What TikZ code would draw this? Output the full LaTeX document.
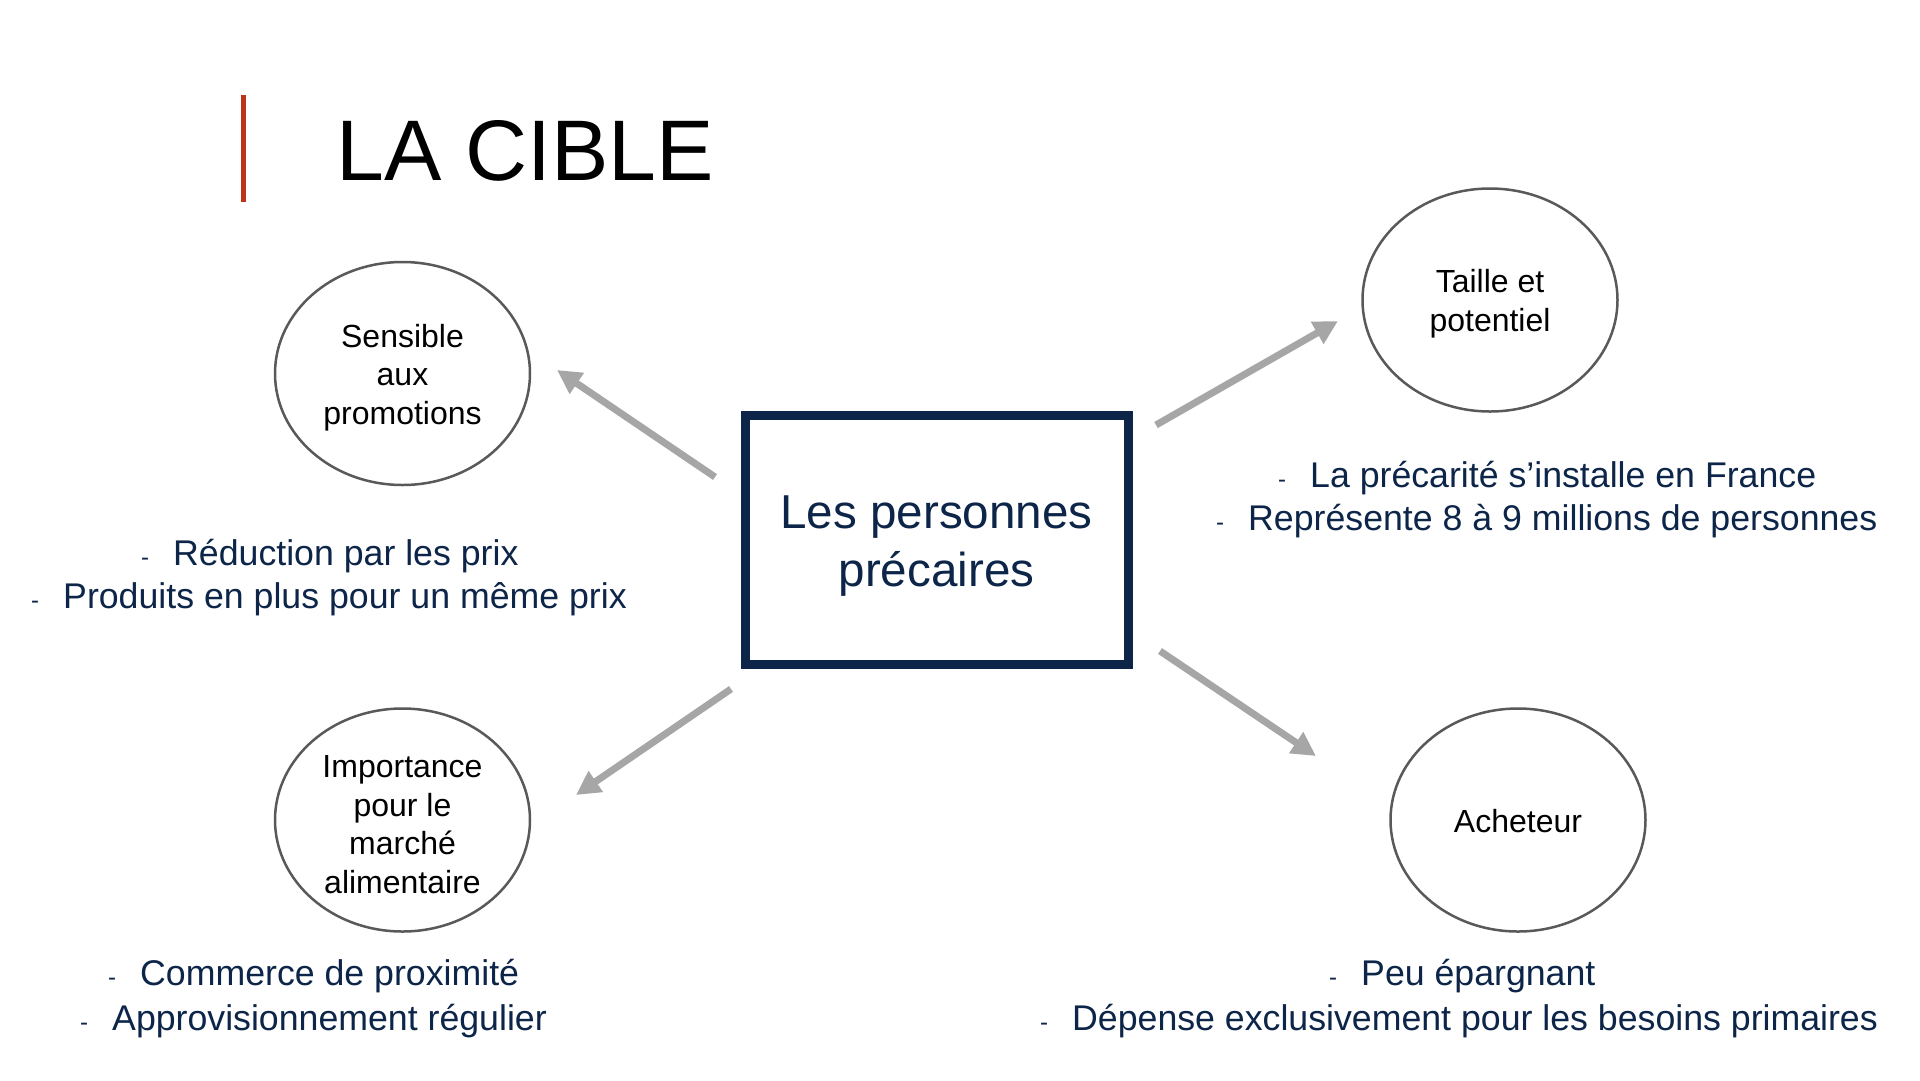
\documentclass[tikz,border=0pt]{standalone}
\usepackage{fontspec}
\setmainfont{Liberation Sans}
\usetikzlibrary{arrows.meta,shapes.geometric}
\definecolor{navy}{HTML}{0C2548}
\definecolor{arrowgray}{HTML}{A6A6A6}
\definecolor{ringgray}{HTML}{595959}
\definecolor{barred}{HTML}{BE3418}
\tikzset{
  ring/.style={draw=ringgray, line width=2.5pt, ellipse, minimum width=255pt, minimum height=223pt, inner sep=0pt, align=center, font=\fontsize{32}{38.6}\selectfont, text=black},
  centerbox/.style={draw=navy, line width=9pt, rectangle, minimum width=383pt, minimum height=249pt, inner sep=0pt, align=center, font=\fontsize{47.6}{57.5}\selectfont, text=navy},
  bigarrow/.style={draw=arrowgray, line width=7pt, -{Triangle[length=24pt,width=24pt]}},
  bullet/.style={anchor=base west, inner sep=0pt, text=navy, font=\fontsize{35.7}{43}\selectfont},
  titletext/.style={anchor=base west, inner sep=0pt, text=black, font=\fontsize{86}{100}\selectfont}
}
\newcommand{\dashitem}[1]{\makebox[32pt][l]{\fontsize{24}{28}\selectfont -}#1}
\newcommand{\ringtop}{\rule{0pt}{31pt}}
\begin{document}
\begin{tikzpicture}[x=1pt,y=-1pt]
\useasboundingbox[fill=white] (0,0) rectangle (1920,1080);
% title
\fill[barred] (241,95) rectangle (246,202);
\node[titletext] (title) at (336,180) {LA CIBLE};
% central box
\node[centerbox] (center) at (936.5,539.5) {\rule{0pt}{46pt}Les personnes\\précaires};
% circles
\node[ring] (sens) at (402.5,373.5) {\ringtop Sensible\\aux\\promotions};
\node[ring] (taille) at (1490,300) {\ringtop Taille et\\potentiel};
\node[ring] (imp) at (402.5,820) {\ringtop Importance\\pour le\\marché\\alimentaire};
\node[ring] (ach) at (1518,820) {\rule{0pt}{26pt}Acheteur};
% arrows
\coordinate (a1s) at (715,477);  \coordinate (a1e) at (557,370);
\coordinate (a2s) at (1156,425); \coordinate (a2e) at (1338,321);
\coordinate (a3s) at (731,689);  \coordinate (a3e) at (576,795);
\coordinate (a4s) at (1160,651); \coordinate (a4e) at (1316,756);
\draw[bigarrow] (a1s) -- (a1e);
\draw[bigarrow] (a2s) -- (a2e);
\draw[bigarrow] (a3s) -- (a3e);
\draw[bigarrow] (a4s) -- (a4e);
% bullet texts
\node[bullet] (b1a) at (141,565) {\dashitem{Réduction par les prix}};
\node[bullet] (b1b) at (31,608) {\dashitem{Produits en plus pour un même prix}};
\node[bullet] (b2a) at (1278,487) {\dashitem{La précarité s’installe en France}};
\node[bullet] (b2b) at (1216,530) {\dashitem{Représente 8 à 9 millions de personnes}};
\node[bullet] (b3a) at (108,985) {\dashitem{Commerce de proximité}};
\node[bullet] (b3b) at (80,1030) {\dashitem{Approvisionnement régulier}};
\node[bullet] (b4a) at (1329,985) {\dashitem{Peu épargnant}};
\node[bullet] (b4b) at (1040,1030) {\dashitem{Dépense exclusivement pour les besoins primaires}};
\end{tikzpicture}
\end{document}
